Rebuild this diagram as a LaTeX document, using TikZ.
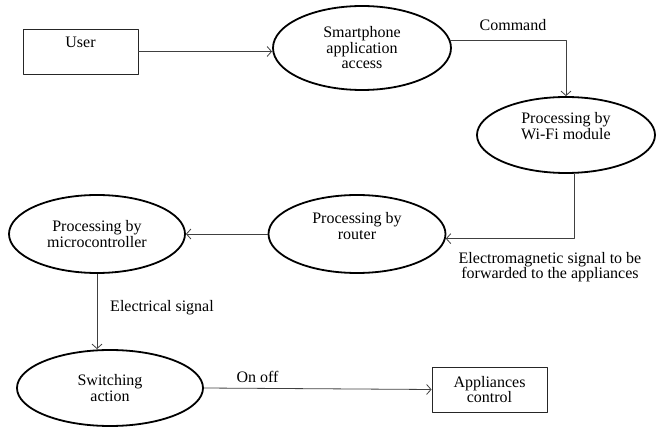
\documentclass[tikz,border=0pt]{standalone}
\usepackage{fontspec}
\setmainfont{Liberation Serif}
\usetikzlibrary{arrows.meta,shapes.geometric}

\newcommand{\labelfont}{\fontsize{16}{15.5}\selectfont}

\begin{document}
\begin{tikzpicture}[x=1pt, y=-1pt, line join=round,
  >={Straight Barb[length=4.5pt, width=10pt]},
  stage/.style={ellipse, draw=black, line width=1.8pt, inner sep=0pt,
    minimum width=178pt, minimum height=78pt, align=center, font=\labelfont},
  endbox/.style={rectangle, draw=black!85, line width=0.8pt,
    minimum width=115pt, minimum height=45pt, align=center, font=\labelfont},
  flow/.style={->, draw=black!75, line width=0.8pt},
  note/.style={font=\labelfont, align=center, inner sep=0pt}]
  % ========================================================
  % 0. CANVAS
  % ========================================================
  \useasboundingbox (0,0) rectangle (657,430);

  % ========================================================
  % 1. END BOXES (User, Appliances control)
  % ========================================================
  \node[endbox, text depth=19pt] (user) at (80.5,51.5) {User};
  \node[endbox] (appl) at (489.5,389.5) {Appliances\\control};

  % ========================================================
  % 2. PROCESSING STAGES (ellipses)
  % ========================================================
  \node[stage, minimum height=84pt] (smart) at (362,48) {Smartphone\\application\\access};
  \node[stage, minimum height=76pt, text depth=18pt] (wifi) at (566,135) {Processing by\\Wi-Fi module};
  \node[stage, minimum width=177pt, text depth=16pt] (router) at (357,234) {Processing by\\router};
  \node[stage, minimum width=176pt] (micro) at (97,234) {Processing by\\microcontroller};
  \node[stage, minimum width=186pt, minimum height=76pt] (switch) at (110,388) {Switching\\action};

  % ========================================================
  % 3. CONNECTORS
  % ========================================================
  \draw[flow] (user.east) -- (user.east -| smart.west);
  \draw[flow] (smart.5) -| (wifi.north);
  \draw[flow] ([xshift=8pt]wifi.south) |- (router.-3);
  \draw[flow] (router.west) -- (micro.east);
  \draw[flow] (micro.south) -- (micro.south |- switch.north);
  \draw[flow] (switch.east) -- (appl.west);

  % ========================================================
  % 4. CONNECTOR LABELS
  % ========================================================
  \node[note] (cmd) at (513,25) {Command};
  \node[note] (emsig) at (550,267) {Electromagnetic signal to be\\forwarded to the appliances};
  \node[note] (elsig) at (162,308) {Electrical signal};
  \node[note] (onoff) at (257.5,377) {On off};

\end{tikzpicture}
\end{document}
